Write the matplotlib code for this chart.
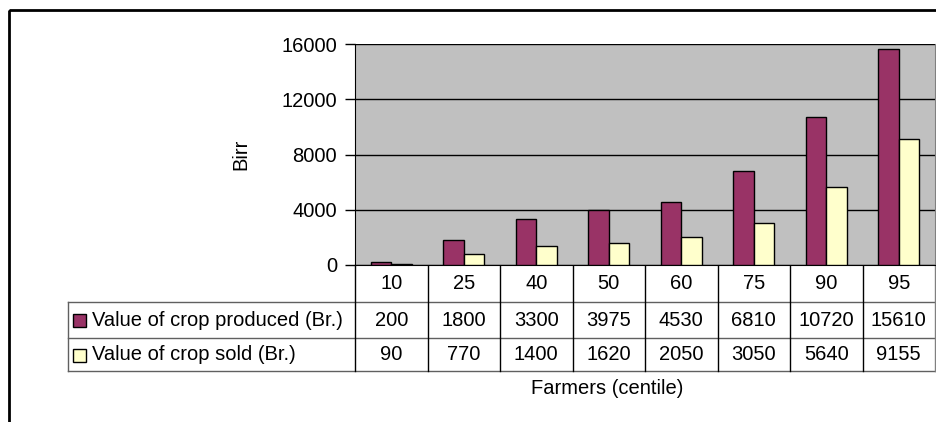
import matplotlib
matplotlib.use('Agg')
import matplotlib.pyplot as plt
from matplotlib.patches import Rectangle

centiles = ['10', '25', '40', '50', '60', '75', '90', '95']
produced = [200, 1800, 3300, 3975, 4530, 6810, 10720, 15610]
sold = [90, 770, 1400, 1620, 2050, 3050, 5640, 9155]
series_names = ['Value of crop produced (Br.)', 'Value of crop sold (Br.)']
series_colors = ['#993366', '#FFFFCC']
y_ticks = [0, 4000, 8000, 12000, 16000]

W, H = 936, 422
FS = 14.5
plt.rcParams['font.family'] = ['Liberation Sans', 'DejaVu Sans']

fig = plt.figure(figsize=(W / 100, H / 100), dpi=100)


def px_rect(x0, y0, x1, y1):
    return [x0 / W, 1 - y1 / H, (x1 - x0) / W, (y1 - y0) / H]


# pixel-space overlay for the frame and the data table
ov = fig.add_axes([0, 0, 1, 1], zorder=0)
ov.set_xlim(0, W)
ov.set_ylim(H, 0)
ov.axis('off')

# chart area
left, right, top, bottom = 355, 935, 44, 265
ax = fig.add_axes(px_rect(left, top, right, bottom), zorder=1)
ax.set_facecolor('#C0C0C0')

n = len(centiles)
bw = 1 / 3.5
x = list(range(n))
ax.bar([i - bw / 2 for i in x], produced, bw, color=series_colors[0],
       edgecolor='black', linewidth=1, zorder=3)
ax.bar([i + bw / 2 for i in x], sold, bw, color=series_colors[1],
       edgecolor='black', linewidth=1, zorder=3)

ax.set_xlim(-0.5, n - 0.5)
ax.set_ylim(0, 16000)
ax.set_yticks(y_ticks)
ax.set_xticks([])
ax.tick_params(axis='y', labelsize=FS, length=7, width=1, pad=6, direction='out')
ax.grid(axis='y', color='black', linewidth=1, zorder=1)
ax.spines['top'].set_visible(False)
ax.spines['right'].set_color('#808080')
ax.spines['left'].set_color('black')
ax.spines['bottom'].set_color('black')
ax.set_ylabel('Birr', fontsize=FS)
ax.yaxis.set_label_coords(-0.181, 0.5)

# outer chart frame
ov.add_patch(Rectangle((9, 10), 960, 440, fill=False, edgecolor='black', linewidth=2))

# data table below the bars
x0 = 68
colw = (right - left) / n
rows = [265, 302, 338, 371]
for yy in rows[1:]:
    ov.plot([x0, right], [yy, yy], color='#606060', linewidth=1)
ov.plot([x0, x0], [rows[1], rows[3]], color='#606060', linewidth=1)
for i in range(n + 1):
    xx = left + i * colw
    c = '#808080' if i == n else 'black'
    ov.plot([xx, xx], [rows[0], rows[3]], color=c, linewidth=1)

for i, lab in enumerate(centiles):
    cx = left + (i + 0.5) * colw
    ov.text(cx, (rows[0] + rows[1]) / 2, lab, fontsize=FS, ha='center', va='center')
    ov.text(cx, (rows[1] + rows[2]) / 2, str(produced[i]), fontsize=FS, ha='center', va='center')
    ov.text(cx, (rows[2] + rows[3]) / 2, str(sold[i]), fontsize=FS, ha='center', va='center')

for r, (name, col) in enumerate(zip(series_names, series_colors)):
    cy = (rows[r + 1] + rows[r + 2]) / 2
    ov.add_patch(Rectangle((73, cy - 6), 13, 13, facecolor=col, edgecolor='black', linewidth=1))
    ov.text(92, cy, name, fontsize=FS, ha='left', va='center')

ov.text(607, 388, 'Farmers (centile)', fontsize=FS, ha='center', va='center')

fig.savefig('out.png', dpi=100)
